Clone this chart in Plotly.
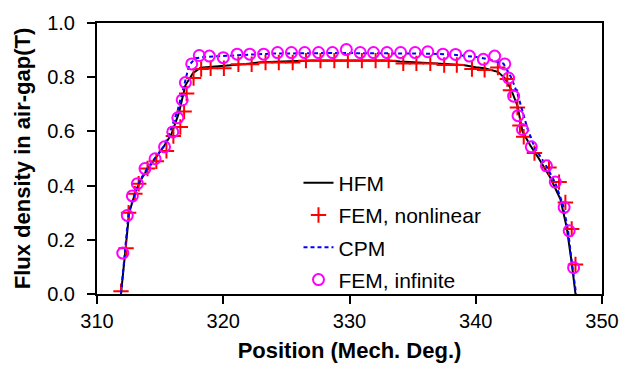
import plotly.graph_objects as go

# HFM curve
hfm_x = [311.9, 312.2, 312.55, 313.0, 313.45, 314.0, 314.6, 315.3, 315.9, 316.5, 317.0, 317.6, 318.2,
         319.0, 320, 321, 322, 323, 324, 325, 326, 327, 328, 329, 330, 331, 332, 333, 334, 335, 336,
         337, 338, 339, 340, 340.7, 341.75, 342.3, 342.8, 343.3, 343.7, 344.3, 344.9, 345.9, 346.7,
         347.2, 347.6, 347.9]
hfm_y = [0.0, 0.15, 0.30, 0.37, 0.42, 0.46, 0.50, 0.545, 0.59, 0.67, 0.77, 0.815, 0.835,
         0.838, 0.84, 0.845, 0.85, 0.855, 0.857, 0.858, 0.86, 0.862, 0.862, 0.862, 0.862, 0.862, 0.862,
         0.862, 0.858, 0.855, 0.853, 0.85, 0.848, 0.845, 0.837, 0.833, 0.82, 0.797, 0.755, 0.695, 0.60,
         0.55, 0.507, 0.43, 0.35, 0.247, 0.115, 0.0]

# CPM curve
cpm_x = [311.9, 312.2, 312.5, 313.0, 313.4, 314.0, 314.6, 315.3, 315.8, 316.4, 316.9, 317.3, 317.8,
         318.5, 319.5, 320.5, 322, 324, 326, 328, 330, 332, 334, 336, 338, 340, 341.2, 342.2, 342.8,
         343.3, 344.1, 344.7, 345.5, 346.3, 346.9, 347.3, 347.6, 347.95]
cpm_y = [0.0, 0.15, 0.30, 0.37, 0.42, 0.465, 0.50, 0.545, 0.60, 0.68, 0.77, 0.845, 0.87,
         0.875, 0.877, 0.88, 0.883, 0.887, 0.889, 0.889, 0.889, 0.889, 0.889, 0.887, 0.884, 0.875,
         0.864, 0.85, 0.80, 0.74, 0.61, 0.537, 0.48, 0.41, 0.33, 0.24, 0.12, 0.0]

# FEM, nonlinear
fem_nl_x = [311.9, 312.3, 312.5, 313.0, 313.3, 314.0, 314.7, 315.5, 316.05, 316.6, 316.9, 317.1,
            317.65, 318.25, 319.0, 320.05, 321.2, 322.25, 323.35, 324.4, 325.5, 326.55, 327.7,
            328.8, 329.87, 330.98, 332.07, 333.1, 334.26, 335.3, 336.4, 337.5, 338.5, 339.7,
            340.7, 341.75, 342.5, 342.75, 343.3, 343.5, 343.8, 344.65, 345.8, 346.6, 347.1,
            347.6, 347.9]
fem_nl_y = [0.01, 0.169, 0.30, 0.37, 0.407, 0.463, 0.49, 0.528, 0.583, 0.616, 0.673, 0.74,
            0.797, 0.83, 0.833, 0.833, 0.848, 0.848, 0.854, 0.854, 0.854, 0.861, 0.861,
            0.861, 0.861, 0.861, 0.861, 0.861, 0.851, 0.851, 0.851, 0.845, 0.845, 0.83,
            0.827, 0.836, 0.793, 0.752, 0.688, 0.622, 0.58, 0.52, 0.467, 0.413, 0.338,
            0.24, 0.109]

# FEM, infinite
fem_inf_x = [312.04, 312.4, 312.8, 313.2, 313.8, 314.6, 315.35, 316.0, 316.4, 316.75, 317.0, 317.5,
             318.1, 318.9, 320.0, 321.1, 322.1, 323.2, 324.3, 325.4, 326.45, 327.55, 328.65,
             329.75, 330.85, 331.9, 332.97, 334.05, 335.2, 336.2, 337.4, 338.4, 339.5, 340.6,
             341.5, 342.3, 342.6, 343.0, 343.35, 343.7, 344.4, 345.6, 346.3, 347.0, 347.4, 347.75]
fem_inf_y = [0.151, 0.29, 0.362, 0.407, 0.463, 0.499, 0.543, 0.598, 0.65, 0.716, 0.78, 0.849,
             0.88, 0.878, 0.872, 0.885, 0.885, 0.885, 0.891, 0.891, 0.891, 0.891, 0.891,
             0.902, 0.891, 0.891, 0.891, 0.891, 0.891, 0.894, 0.885, 0.884, 0.878, 0.866,
             0.878, 0.849, 0.797, 0.73, 0.658, 0.607, 0.543, 0.473, 0.413, 0.32, 0.233, 0.097]

x_ticks = [310, 320, 330, 340, 350]
y_ticks = [0.0, 0.2, 0.4, 0.6, 0.8, 1.0]

FONT = "Arial, Liberation Sans, sans-serif"

fig = go.Figure()
fig.add_trace(go.Scatter(x=hfm_x, y=hfm_y, mode="lines", name="HFM", legendgroup="a",
                         line=dict(color="black", width=2)))
fig.add_trace(go.Scatter(x=fem_nl_x, y=fem_nl_y, mode="markers", name="FEM, nonlinear",
                         legendgroup="b",
                         marker=dict(symbol="cross-thin", size=11, color="red",
                                     line=dict(color="red", width=2))))
fig.add_trace(go.Scatter(x=cpm_x, y=cpm_y, mode="lines", name="CPM", legendgroup="c",
                         line=dict(color="#0000FF", width=2, dash="4px,3px")))
fig.add_trace(go.Scatter(x=fem_inf_x, y=fem_inf_y, mode="markers", name="FEM, infinite",
                         legendgroup="d",
                         marker=dict(symbol="circle-open", size=11, color="#FF00FF",
                                     line=dict(color="#FF00FF", width=2))))

fig.update_layout(
    width=631, height=371,
    margin=dict(l=97, r=18, t=19, b=76),
    paper_bgcolor="white", plot_bgcolor="white",
    font=dict(family=FONT, size=20, color="black"),
    showlegend=True,
    legend=dict(x=0.399, y=0.485, xanchor="left", yanchor="top",
                traceorder="grouped", tracegroupgap=2,
                bgcolor="rgba(0,0,0,0)", borderwidth=0,
                font=dict(family=FONT, size=21, color="black")),
    xaxis=dict(range=[310, 350], tickvals=x_ticks, ticktext=[str(v) for v in x_ticks],
               ticks="outside", ticklen=8, tickwidth=2, tickcolor="black",
               showline=True, linecolor="black", linewidth=2, mirror=True,
               showgrid=False, zeroline=False,
               tickfont=dict(size=20),
               title=dict(text="<b>Position (Mech. Deg.)</b>", font=dict(size=22), standoff=12)),
    yaxis=dict(range=[0, 1.0], tickvals=y_ticks, ticktext=[f"{v:.1f}" for v in y_ticks],
               ticks="outside", ticklen=8, tickwidth=2, tickcolor="black",
               showline=True, linecolor="black", linewidth=2, mirror=True,
               showgrid=False, zeroline=False,
               tickfont=dict(size=20), ticklabelstandoff=8,
               title=dict(text="<b>Flux density in air-gap(T)</b>", font=dict(size=22), standoff=10)),
)

fig.write_html("out.html")
